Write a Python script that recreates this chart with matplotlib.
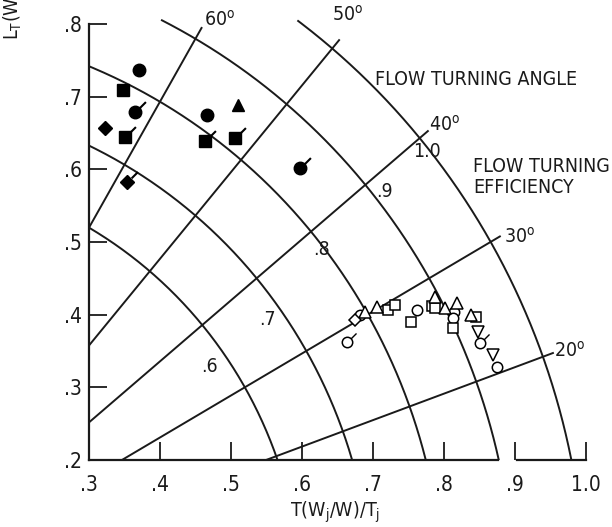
import matplotlib
matplotlib.use("Agg")
import matplotlib.pyplot as plt
import numpy as np
from matplotlib.path import Path

plt.rcParams['font.family'] = ['DejaVu Sans']
plt.rcParams['font.stretch'] = 'condensed'

# grid: flow turning efficiency arcs and flow turning angle rays
efficiency_levels = [0.6, 0.7, 0.8, 0.9, 1.0]
efficiency_labels = ['.6', '.7', '.8', '.9', '1.0']
efficiency_label_x = [0.470, 0.552, 0.628, 0.717, 0.777]
efficiency_label_y = [0.328, 0.393, 0.489, 0.569, 0.624]

angle_levels = [20, 30, 40, 50, 60]
angle_label_x = [0.977, 0.907, 0.801, 0.665, 0.484]
angle_label_y = [0.351, 0.507, 0.661, 0.812, 0.805]

x_ticks = [0.3, 0.4, 0.5, 0.6, 0.7, 0.8, 0.9, 1.0]
x_ticklabels = ['.3', '.4', '.5', '.6', '.7', '.8', '.9', '1.0']
y_ticks = [0.2, 0.3, 0.4, 0.5, 0.6, 0.7, 0.8]
y_ticklabels = ['.2', '.3', '.4', '.5', '.6', '.7', '.8']

# filled symbols (upper left group)
solid_circle_x = [0.370, 0.365, 0.466, 0.597]
solid_circle_y = [0.736, 0.679, 0.675, 0.602]
solid_square_x = [0.348, 0.351, 0.463, 0.506]
solid_square_y = [0.709, 0.644, 0.639, 0.643]
solid_diamond_x = [0.323, 0.354]
solid_diamond_y = [0.657, 0.582]
solid_triangle_x = [0.510]
solid_triangle_y = [0.688]
solid_flag_x = [0.365, 0.597, 0.351, 0.463, 0.506, 0.354]
solid_flag_y = [0.679, 0.602, 0.644, 0.639, 0.643, 0.582]

# open symbols (lower right group)
open_circle_x = [0.682, 0.762, 0.815, 0.813, 0.851, 0.875, 0.663]
open_circle_y = [0.399, 0.406, 0.404, 0.395, 0.361, 0.328, 0.362]
open_square_x = [0.721, 0.731, 0.754, 0.783, 0.787, 0.813, 0.846]
open_square_y = [0.406, 0.413, 0.390, 0.412, 0.409, 0.382, 0.397]
open_triangle_x = [0.689, 0.706, 0.787, 0.801, 0.818, 0.839]
open_triangle_y = [0.404, 0.410, 0.424, 0.409, 0.416, 0.399]
open_tridown_x = [0.848, 0.869]
open_tridown_y = [0.376, 0.344]
open_diamond_x = [0.675]
open_diamond_y = [0.393]
open_flag_x = [0.663, 0.851]
open_flag_y = [0.362, 0.361]

X0, Y0, YTOP = 0.3, 0.2, 0.805
INK = '#1a1a1a'

fig = plt.figure(figsize=(6.12, 5.27), dpi=100)
ax = fig.add_axes([89 / 612, 67 / 527, 518 / 612, 458 / 527])
ax.set_xlim(0.3, 1.03)
ax.set_ylim(0.2, 0.83)

# efficiency arcs, clipped to the chart box
for r in efficiency_levels:
    th = np.linspace(0, np.pi / 2, 800)
    x, y = r * np.cos(th), r * np.sin(th)
    keep = (x >= X0) & (y >= Y0) & (y <= YTOP)
    ax.plot(x[keep], y[keep], color=INK, lw=1.4)

# angle rays
for a in angle_levels:
    t = np.radians(a)
    rr = np.linspace(0, 1.015, 800)
    x, y = rr * np.cos(t), rr * np.sin(t)
    keep = (x >= X0) & (y >= Y0) & (y <= 0.795)
    ax.plot(x[keep], y[keep], color=INK, lw=1.4)

for lab, lx, ly in zip(efficiency_labels, efficiency_label_x, efficiency_label_y):
    ax.text(lx, ly, lab, fontsize=14, ha='center', va='center', color=INK)
for a, lx, ly in zip(angle_levels, angle_label_x, angle_label_y):
    ax.text(lx, ly, f'{a}$^{{\\mathrm{{o}}}}$', fontsize=14, ha='center', va='center',
            color=INK, clip_on=False)

ax.text(0.703, 0.724, 'FLOW TURNING ANGLE', fontsize=14, ha='left', va='center', color=INK)
ax.text(0.841, 0.589, 'FLOW TURNING\nEFFICIENCY', fontsize=14, ha='left', va='center',
        color=INK, linespacing=1.15, clip_on=False)

flag = Path([(0.4, 0.4), (1.0, 1.0)], [Path.MOVETO, Path.LINETO])

# filled points
ax.plot(solid_circle_x, solid_circle_y, 'o', ms=9, color='black')
ax.plot(solid_square_x, solid_square_y, 's', ms=8.5, color='black')
ax.plot(solid_diamond_x, solid_diamond_y, 'D', ms=7, color='black')
ax.plot(solid_triangle_x, solid_triangle_y, '^', ms=9, color='black')
ax.plot(solid_flag_x, solid_flag_y, marker=flag, ms=15, ls='none', mew=1.5, color='black')

# open points
mk = dict(ls='none', mfc='white', mec='black', mew=1.1)
ax.plot(open_circle_x, open_circle_y, 'o', ms=7.5, **mk)
ax.plot(open_square_x, open_square_y, 's', ms=7, **mk)
ax.plot(open_triangle_x, open_triangle_y, '^', ms=8, **mk)
ax.plot(open_tridown_x, open_tridown_y, 'v', ms=8, **mk)
ax.plot(open_diamond_x, open_diamond_y, 'D', ms=6.5, **mk)
ax.plot(open_flag_x, open_flag_y, marker=flag, ms=13, ls='none', mew=1.0, color='black')

# axes: left and broken bottom axis
for side in ('top', 'right'):
    ax.spines[side].set_visible(False)
ax.spines['left'].set_bounds(0.2, 0.8)
ax.spines['bottom'].set_bounds(0.3, 0.877)
for side in ('left', 'bottom'):
    ax.spines[side].set_linewidth(1.6)
    ax.spines[side].set_color(INK)
ax.plot([0.903, 1.0], [0.2, 0.2], color=INK, lw=1.6, clip_on=False)

ax.set_xticks(x_ticks)
ax.set_xticklabels(x_ticklabels)
ax.set_yticks(y_ticks)
ax.set_yticklabels(y_ticklabels)
ax.tick_params(direction='in', length=13, width=1.3, color=INK, labelsize=15,
               labelcolor=INK)
ax.tick_params(axis='x', pad=11)
ax.tick_params(axis='y', pad=5)

fig.text(335 / 612, 1 - 512 / 527, 'T(W$_\\mathrm{j}$/W)/T$_\\mathrm{j}$', fontsize=14,
         ha='center', va='center', color=INK)
fig.text(14 / 612, 1 - 40 / 527, 'L$_\\mathrm{T}$(W$_\\mathrm{j}$/W)/L$_\\mathrm{j}$',
         fontsize=14, rotation=90, ha='center', va='bottom', color=INK)

fig.savefig('out.png', dpi=100)
